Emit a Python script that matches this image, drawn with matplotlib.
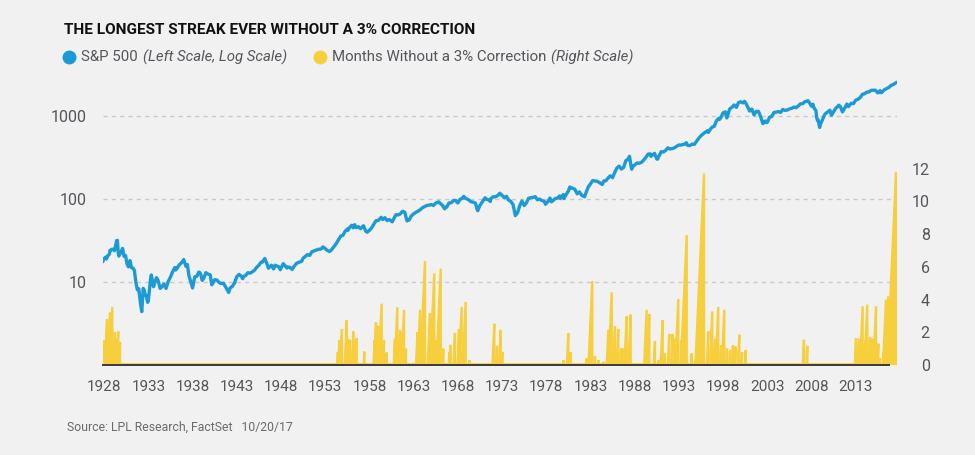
import matplotlib
matplotlib.use('Agg')
import matplotlib.pyplot as plt
import pandas as pd
from matplotlib import font_manager
from matplotlib.lines import Line2D

# ---------------- data ----------------
sp_dates = [
 "1928-01","1928-03","1928-05","1928-06","1928-08","1928-10","1928-11","1928-12",
 "1929-02","1929-05","1929-08","1929-09","1929-10","1929-11","1929-12",
 "1930-02","1930-04","1930-06","1930-08","1930-10","1930-12",
 "1931-02","1931-04","1931-06","1931-08","1931-10","1931-12",
 "1932-02","1932-04","1932-06","1932-08","1932-09","1932-11","1932-12",
 "1933-02","1933-03","1933-06","1933-07","1933-08","1933-10","1933-12",
 "1934-02","1934-04","1934-07","1934-09","1934-12",
 "1935-03","1935-06","1935-09","1935-12",
 "1936-03","1936-04","1936-06","1936-09","1936-12",
 "1937-02","1937-03","1937-06","1937-08","1937-10","1937-12",
 "1938-03","1938-06","1938-09","1938-11","1938-12",
 "1939-02","1939-04","1939-06","1939-09","1939-12",
 "1940-03","1940-05","1940-06","1940-09","1940-12",
 "1941-03","1941-06","1941-09","1941-12",
 "1942-04","1942-06","1942-09","1942-12",
 "1943-03","1943-06","1943-09","1943-11","1943-12",
 "1944-03","1944-06","1944-09","1944-12",
 "1945-03","1945-06","1945-09","1945-12",
 "1946-02","1946-05","1946-08","1946-10","1946-12",
 "1947-02","1947-05","1947-07","1947-12",
 "1948-02","1948-06","1948-09","1948-11","1948-12",
 "1949-03","1949-06","1949-09","1949-12",
 "1950-03","1950-06","1950-07","1950-09","1950-12",
 "1951-03","1951-06","1951-09","1951-12",
 "1952-03","1952-06","1952-09","1952-12",
 "1953-03","1953-06","1953-09","1953-12",
 "1954-03","1954-06","1954-09","1954-12",
 "1955-03","1955-06","1955-09","1955-10","1955-12",
 "1956-03","1956-05","1956-07","1956-09","1956-12",
 "1957-03","1957-07","1957-10","1957-12",
 "1958-03","1958-06","1958-09","1958-12",
 "1959-03","1959-07","1959-09","1959-12",
 "1960-03","1960-06","1960-10","1960-12",
 "1961-03","1961-06","1961-09","1961-12",
 "1962-03","1962-06","1962-09","1962-12",
 "1963-03","1963-06","1963-09","1963-12",
 "1964-03","1964-06","1964-09","1964-12",
 "1965-03","1965-06","1965-09","1965-12",
 "1966-01","1966-03","1966-06","1966-09","1966-10","1966-12",
 "1967-03","1967-06","1967-09","1967-12",
 "1968-03","1968-06","1968-09","1968-11","1968-12",
 "1969-03","1969-06","1969-09","1969-12",
 "1970-03","1970-05","1970-06","1970-09","1970-12",
 "1971-03","1971-04","1971-06","1971-09","1971-11","1971-12",
 "1972-03","1972-06","1972-09","1972-12",
 "1973-01","1973-03","1973-06","1973-09","1973-12",
 "1974-03","1974-06","1974-09","1974-12",
 "1975-03","1975-06","1975-09","1975-12",
 "1976-03","1976-06","1976-09","1976-12",
 "1977-03","1977-06","1977-09","1977-12",
 "1978-02","1978-03","1978-06","1978-08","1978-10","1978-12",
 "1979-03","1979-06","1979-09","1979-10","1979-12",
 "1980-02","1980-03","1980-06","1980-09","1980-11","1980-12",
 "1981-03","1981-06","1981-09","1981-12",
 "1982-03","1982-07","1982-09","1982-12",
 "1983-03","1983-06","1983-09","1983-12",
 "1984-03","1984-07","1984-09","1984-12",
 "1985-03","1985-06","1985-09","1985-12",
 "1986-03","1986-06","1986-09","1986-12",
 "1987-03","1987-06","1987-08","1987-10","1987-11","1987-12",
 "1988-03","1988-06","1988-09","1988-12",
 "1989-03","1989-06","1989-09","1989-12",
 "1990-01","1990-03","1990-06","1990-09","1990-10","1990-12",
 "1991-03","1991-06","1991-09","1991-12",
 "1992-03","1992-06","1992-09","1992-12",
 "1993-03","1993-06","1993-09","1993-12",
 "1994-01","1994-03","1994-06","1994-09","1994-12",
 "1995-03","1995-06","1995-09","1995-12",
 "1996-03","1996-06","1996-07","1996-09","1996-12",
 "1997-03","1997-06","1997-09","1997-10","1997-12",
 "1998-03","1998-06","1998-08","1998-09","1998-12",
 "1999-03","1999-06","1999-09","1999-12",
 "2000-03","2000-06","2000-08","2000-10","2000-12",
 "2001-03","2001-06","2001-09","2001-12",
 "2002-03","2002-06","2002-09","2002-12",
 "2003-02","2003-03","2003-06","2003-09","2003-12",
 "2004-03","2004-06","2004-09","2004-12",
 "2005-03","2005-06","2005-09","2005-12",
 "2006-03","2006-06","2006-09","2006-12",
 "2007-03","2007-06","2007-09","2007-10","2007-12",
 "2008-03","2008-05","2008-06","2008-09","2008-10","2008-11","2008-12",
 "2009-02","2009-03","2009-06","2009-09","2009-12",
 "2010-03","2010-04","2010-06","2010-09","2010-12",
 "2011-03","2011-04","2011-06","2011-09","2011-12",
 "2012-03","2012-05","2012-09","2012-12",
 "2013-03","2013-06","2013-09","2013-12",
 "2014-03","2014-06","2014-09","2014-12",
 "2015-03","2015-06","2015-08","2015-09","2015-12",
 "2016-01","2016-02","2016-06","2016-09","2016-12",
 "2017-03","2017-06","2017-09","2017-10-20",
]
sp_values = [
 17.6,19.3,20.0,19.0,20.9,21.7,24.2,24.4,
 25.0,24.0,31.7,31.9,23.0,20.6,21.5,
 23.3,25.5,20.5,21.0,16.6,15.3,
 18.2,15.0,14.8,13.9,10.0,8.1,
 8.3,5.8,4.4,8.4,8.1,6.9,6.9,
 5.7,6.0,10.9,12.2,11.0,8.8,10.1,
 11.3,10.6,8.4,8.7,9.5,
 8.4,10.2,11.5,13.4,
 15.0,14.0,14.7,16.2,17.2,
 18.1,18.7,15.5,16.3,12.0,10.5,
 8.5,11.6,11.8,13.1,13.2,
 12.5,10.5,11.0,13.0,12.5,
 12.2,9.3,9.6,10.7,10.6,
 9.9,9.6,9.7,8.7,
 7.5,8.5,8.9,9.8,
 11.6,12.4,11.8,11.0,11.7,
 12.0,13.0,12.8,13.3,
 13.9,15.1,16.0,17.4,
 17.5,19.3,16.6,14.7,15.3,
 16.0,14.4,16.0,15.3,
 14.1,16.7,15.5,14.8,15.2,
 15.1,14.2,15.6,16.8,
 17.3,17.7,17.8,19.4,20.4,
 21.5,21.0,23.3,23.8,
 24.4,24.9,25.0,26.6,
 25.3,24.1,23.4,24.8,
 26.9,29.2,32.3,36.0,
 36.6,41.0,43.7,42.3,45.5,
 48.5,45.2,49.4,45.4,46.7,
 44.1,47.9,41.1,40.0,
 42.1,45.2,50.1,55.2,
 55.4,60.5,56.9,59.9,
 55.3,56.9,53.4,58.1,
 65.1,64.6,66.7,71.6,
 69.6,54.8,56.3,63.1,
 66.6,69.4,71.7,75.0,
 78.9,81.7,84.2,84.8,
 86.2,84.1,90.0,92.4,
 92.9,89.2,84.7,76.6,80.2,80.3,
 90.2,90.6,96.7,96.5,
 90.2,99.6,102.7,108.4,103.9,
 101.5,97.7,93.1,92.1,
 89.6,76.6,72.7,84.3,92.2,
 100.3,104.0,99.7,98.3,94.0,102.1,
 107.2,107.1,110.6,118.1,
 116.0,111.5,104.3,108.4,97.6,
 94.0,86.0,63.5,68.6,
 83.4,95.2,83.9,90.2,
 102.8,104.3,105.2,107.5,
 98.4,100.5,96.5,95.1,
 87.0,89.2,95.5,103.3,93.2,96.1,
 101.6,102.9,109.3,101.8,107.9,
 113.7,102.1,114.2,125.5,140.5,135.8,
 136.0,131.2,116.2,122.6,
 112.0,107.1,120.4,140.6,
 153.0,168.1,166.1,164.9,
 159.2,150.7,166.1,167.2,
 180.7,191.9,182.1,211.3,
 238.9,250.8,231.3,242.2,
 291.7,304.0,329.8,251.8,230.3,247.1,
 258.9,273.5,271.9,277.7,
 294.9,318.0,349.2,353.4,
 329.1,339.9,358.0,306.1,304.0,330.2,
 375.2,371.2,387.9,417.1,
 403.7,408.1,417.8,435.7,
 451.7,450.5,458.9,466.5,
 481.6,445.8,444.3,462.7,459.3,
 500.7,544.8,584.4,615.9,
 645.5,670.6,639.9,687.3,740.7,
 757.1,885.1,947.3,914.6,970.4,
 1101.8,1133.8,957.3,1017.0,1229.2,
 1286.4,1372.7,1282.7,1469.3,
 1498.6,1454.6,1517.7,1429.4,1320.3,
 1160.3,1224.4,1040.9,1148.1,
 1147.4,989.8,815.3,879.8,
 841.2,848.2,974.5,996.0,1111.9,
 1126.2,1140.8,1114.6,1211.9,
 1180.6,1191.3,1228.8,1248.3,
 1294.9,1270.2,1335.9,1418.3,
 1420.9,1503.4,1526.8,1549.4,1468.4,
 1322.7,1400.4,1280.0,1166.4,968.8,896.2,903.3,
 735.1,797.9,919.3,1057.1,1115.1,
 1169.4,1186.7,1030.7,1141.2,1257.6,
 1325.8,1363.6,1320.6,1131.4,1257.6,
 1408.5,1310.3,1440.7,1426.2,
 1569.2,1606.3,1681.6,1848.4,
 1872.3,1960.2,1972.3,2058.9,
 2067.9,2063.1,1972.2,1920.0,2043.9,
 1940.2,1932.2,2098.9,2168.3,2238.8,
 2362.7,2423.4,2519.4,2575.0,
]

# streaks without a 3% correction: year in which each streak ended, and its length in months
streak_end = [
 1928.15,1928.26,1928.49,1928.83,1929.09,1929.39,1929.55,1929.76,1929.96,
 1954.60,1954.78,1955.06,1955.60,1955.75,1955.97,1956.34,1956.50,1956.73,1957.59,
 1958.75,1958.91,1959.17,1959.55,1959.81,1960.12,
 1961.05,1961.32,1961.62,1961.80,1962.08,1962.30,
 1963.60,1963.89,1964.45,1965.02,1965.30,1965.50,1965.70,1966.23,1966.52,
 1967.20,1967.36,1967.84,1968.30,1968.60,1969.05,1969.46,
 1972.29,1972.60,1973.01,1973.20,
 1980.09,1980.66,1980.93,1982.74,1983.37,1983.68,1984.05,1984.62,1985.18,1985.57,1985.94,
 1986.31,1986.62,1986.88,1987.26,1987.71,1989.52,1989.82,1990.46,1990.84,1991.33,1991.59,
 1992.08,1992.46,1992.72,1993.10,1993.48,1994.05,1994.61,1994.99,1996.01,1996.49,1996.94,
 1997.25,1997.62,1997.93,1998.30,1998.61,1998.95,1999.28,1999.57,2000.00,2000.30,2000.72,
 2007.31,2007.69,
 2013.20,2013.53,2013.95,2014.21,2014.47,2014.78,2015.08,2015.46,2015.72,2015.91,2016.28,
 2016.59,2016.85,2017.72,
]
streak_months = [
 1.5,1.2,2.8,3.2,3.55,2.0,1.6,2.05,1.4,
 0.8,1.5,2.2,2.73,1.6,1.5,2.05,1.5,1.64,0.82,
 1.5,2.6,2.4,3.75,1.5,0.76,
 1.6,3.53,2.15,2.0,3.38,1.0,
 2.0,3.38,6.36,3.18,2.5,5.6,1.5,5.89,1.0,
 0.8,1.23,1.95,2.2,3.55,3.86,0.3,
 2.52,1.17,2.15,0.8,
 0.3,1.95,0.8,0.4,5.13,0.55,0.3,0.2,2.15,4.45,2.36,
 2.2,1.03,1.0,2.97,3.08,3.38,3.1,1.44,0.3,2.73,0.7,
 1.9,1.9,1.6,4.04,1.5,7.94,0.7,0.3,11.7,2.05,3.28,
 1.6,3.55,1.2,3.38,1.0,0.9,1.2,1.13,1.85,0.8,0.92,
 1.54,1.17,
 1.64,1.6,3.59,1.5,3.69,1.7,1.6,3.59,1.3,0.4,0.8,
 4.0,4.2,11.8,
]

x_label_years = list(range(1928, 2014, 5))
left_ticks = [10, 100, 1000]
right_ticks = [0, 2, 4, 6, 8, 10, 12]

title = "THE LONGEST STREAK EVER WITHOUT A 3% CORRECTION"
legend_sp = ("S&P 500", "(Left Scale, Log Scale)")
legend_months = ("Months Without a 3% Correction", "(Right Scale)")
source = "Source: LPL Research, FactSet   10/20/17"

# ---------------- style ----------------
names = {f.name for f in font_manager.fontManager.ttflist}
FONT = 'Liberation Sans Narrow' if 'Liberation Sans Narrow' in names else 'Roboto'
plt.rcParams['font.family'] = [FONT, 'DejaVu Sans']

BG = '#f1f1f1'
BLUE = '#1b9ad6'
YEL = '#f7cf3d'
TXT = '#55565b'

W, H = 975, 455
fig = plt.figure(figsize=(W / 100, H / 100), dpi=100, facecolor=BG)

def fx(px):
    return px / W

def fy(py):
    return 1 - py / H

ax_l, ax_r, ax_t, ax_b = 102.5, 897, 60, 365
ax = fig.add_axes([fx(ax_l), fy(ax_b), fx(ax_r - ax_l), (ax_b - ax_t) / H])
ax.set_facecolor('none')
ax2 = ax.twinx()

# date -> fractional year
d = pd.to_datetime(sp_dates, format='ISO8601')
sp_x = d.year + (d.dayofyear - 1) / 365.25

x0 = 1928 + (ax_l - 102.7) / 8.842
x1 = 1928 + (ax_r - 102.7) / 8.842

# left axis (log)
ax.set_yscale('log')
ax.set_ylim(1, 10 ** 3.68)
ax.set_xlim(x0, x1)
ax.plot(sp_x, sp_values, color=BLUE, lw=2.4, solid_joinstyle='round', solid_capstyle='round', zorder=5)
for v in left_ticks:
    ax.axhline(v, color='#c9c9c9', lw=1.0, ls=(0, (3, 3)), zorder=0)
ax.set_yticks(left_ticks)
ax.set_yticklabels([str(v) for v in left_ticks])
ax.yaxis.set_minor_locator(matplotlib.ticker.NullLocator())
ax.tick_params(axis='y', length=0, pad=11.5, labelsize=11.5, labelcolor=TXT)
ax.set_xticks([y + 0.17 for y in x_label_years])
ax.set_xticklabels([str(y) for y in x_label_years])
ax.tick_params(axis='x', length=0, pad=11, labelsize=11, labelcolor=TXT)

# right axis
ax2.set_ylim(0, 18.65)
ax2.set_xlim(x0, x1)
ax2.set_zorder(ax.get_zorder() - 1)
ax.patch.set_visible(False)
for e, m in zip(streak_end, streak_months):
    ax2.fill([e - m / 12, e, e], [0, m, 0], facecolor=YEL, lw=1.7, edgecolor=YEL,
             joinstyle='miter', zorder=2)
ax2.plot([1928.0, 2017.8], [0, 0], color=YEL, lw=3.5, zorder=2, solid_capstyle='butt')
ax2.set_yticks(right_ticks)
ax2.set_yticklabels([str(v) for v in right_ticks])
ax2.tick_params(axis='y', length=0, pad=23.5, labelsize=11.5, labelcolor=TXT)
for lab in ax2.get_yticklabels():
    lab.set_horizontalalignment('right')

for a in (ax, ax2):
    for s in ('top', 'right', 'left', 'bottom'):
        a.spines[s].set_visible(False)
ax.spines['bottom'].set_visible(True)
ax.spines['bottom'].set_color('#3a3a3a')
ax.spines['bottom'].set_linewidth(1.4)
ax.spines['bottom'].set_bounds(x0, 1928 + (889 - 102.7) / 8.842)
ax.spines['bottom'].set_zorder(10)

# title, legend, source
fig.text(fx(64), fy(30), title, fontsize=11.1, fontweight='bold', color='#111111', va='center', ha='left')

renderer = fig.canvas.get_renderer()

def legend_item(px, color, normal, italic, size=10.8):
    fig.add_artist(Line2D([fx(px)], [fy(57)], marker='o', ms=9, color=color, lw=0,
                          transform=fig.transFigure))
    t1 = fig.text(fx(px + 12), fy(57), normal, fontsize=size, color=TXT, va='center', ha='left')
    bb = t1.get_window_extent(renderer=renderer)
    fig.text(fx(bb.x1 + 5), fy(57), italic, fontsize=size, color=TXT, style='italic',
             va='center', ha='left')

legend_item(69, BLUE, *legend_sp)
legend_item(320, YEL, *legend_months)

fig.text(fx(67), fy(427), source, fontsize=8.8, color='#6a6a6a', va='center', ha='left')

fig.savefig('out.png', dpi=100, facecolor=BG)
